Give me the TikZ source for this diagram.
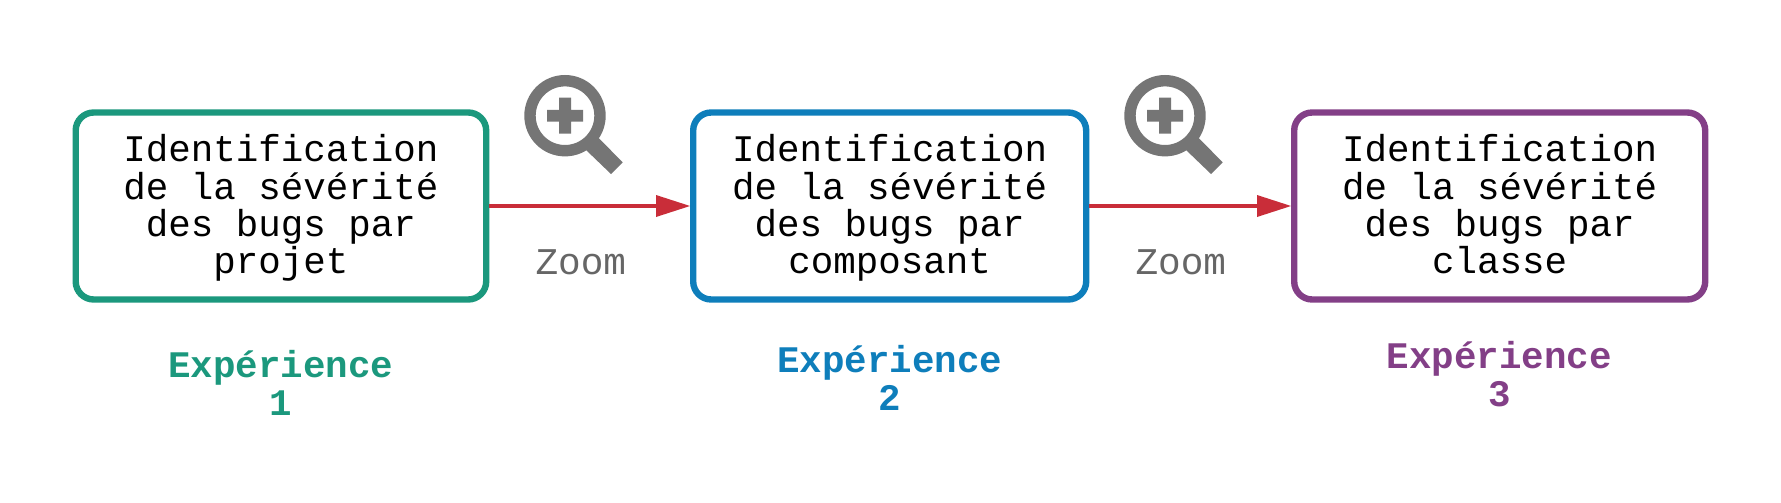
\documentclass[tikz,border=0pt]{standalone}
\usepackage{fontspec}
\setmonofont{Liberation Mono}
\usetikzlibrary{arrows.meta}
\definecolor{cteal}{RGB}{27,152,125}
\definecolor{cblue}{RGB}{14,126,187}
\definecolor{cpurple}{RGB}{131,63,135}
\definecolor{cred}{RGB}{201,45,57}
\definecolor{cicon}{RGB}{117,117,117}
\definecolor{czoom}{RGB}{102,102,102}
\newcommand{\toprule}{\rule{0pt}{31.7pt}}
\newcommand{\botrule}{\rule[-8pt]{0pt}{8pt}}
\newcommand{\labtop}{\rule{0pt}{29.7pt}}
\tikzset{
  box/.style={draw=#1,line width=6.4pt,rounded corners=18pt,fill=white,inner sep=0pt,anchor=north west,
    font=\fontsize{37.5}{37.4}\selectfont\ttfamily,align=center,text=black},
  exper/.style={text=#1,font=\fontsize{37.5}{38}\selectfont\ttfamily\bfseries,align=center,inner sep=0pt},
  zoomlabel/.style={text=czoom,font=\fontsize{37.7}{37.4}\selectfont\ttfamily,inner sep=0pt,anchor=base},
  link/.style={cred,line width=4pt,-{Triangle[length=34pt,width=22pt,line width=0pt]}},
  iconring/.style={circle,draw=cicon,line width=11.4pt,minimum size=70pt,outer sep=0pt,inner sep=0pt},
  iconpart/.style={fill=cicon,draw=none}
}
\newcommand{\magnifier}[2]{%
  \begin{scope}[shift={(#1,115.7)}]
    \node[iconring] (#2) at (0,0) {};
    \fill[iconpart] (33.3,22) -- (57.7,46.6) -- (46,58.3) -- (21,34.3) -- cycle;
    \fill[iconpart] (-18,-5.8) -- (-6,-5.8) -- (-6,-18) -- (6,-18) -- (6,-5.8) -- (18,-5.8) -- (18,5.8) -- (6,5.8) -- (6,18) -- (-6,18) -- (-6,5.8) -- (-18,5.8) -- cycle;
  \end{scope}}
\begin{document}
\begin{tikzpicture}[x=1pt,y=-1pt]
\useasboundingbox (0,0) rectangle (1781,503);
\fill[white] (0,0) rectangle (1781,503);
\node[box=cteal,minimum width=410.5pt,minimum height=187pt] (b1) at (72.5,109.3) {\toprule Identification\\de la sévérité\\des bugs par\\projet\botrule};
\node[box=cblue,minimum width=393pt,minimum height=187pt] (b2) at (690,109.3) {\toprule Identification\\de la sévérité\\des bugs par\\composant\botrule};
\node[box=cpurple,minimum width=411pt,minimum height=187pt] (b3) at (1291,109.3) {\toprule Identification\\de la sévérité\\des bugs par\\classe\botrule};
\draw[link] (b1.east) -- (b2.west);
\draw[link] (b2.east) -- (b3.west);
\magnifier{565}{m1}
\magnifier{1165}{m2}
\node[zoomlabel] (z1) at (580.8,274) {Zoom};
\node[zoomlabel] (z2) at (1180.8,274) {Zoom};
\node[exper=cteal] (e1) at (281,385.5) {\labtop Expérience\\1\botrule};
\node[exper=cblue] (e2) at (890,380.85) {\labtop Expérience\\2\botrule};
\node[exper=cpurple] (e3) at (1499.5,376.4) {\labtop Expérience\\3\botrule};
\end{tikzpicture}
\end{document}
